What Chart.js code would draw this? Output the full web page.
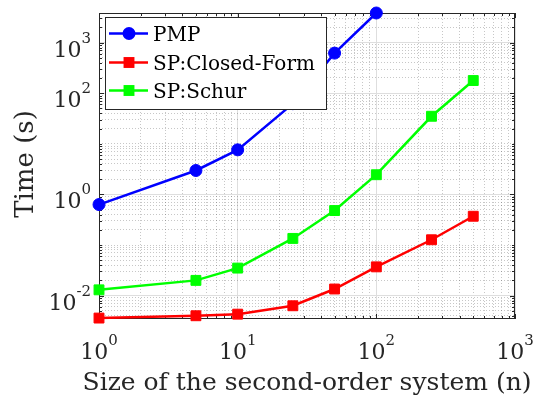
<!DOCTYPE html>
<html><head><meta charset="utf-8">
<script src="https://cdn.jsdelivr.net/npm/chart.js@4.4.0/dist/chart.umd.min.js"></script>
<style>html,body{margin:0;padding:0;background:#fff;}canvas{display:block;}</style>
</head><body>
<canvas id="c" width="535" height="396"></canvas>
<script>
// ---- data ----
const sizes = [1, 5, 10, 25, 50, 100, 250, 500];
const pmpTimes = [0.63, 2.97, 7.6, 62, 620, 3846];
const closedFormTimes = [0.0036, 0.0040, 0.0043, 0.0063, 0.0135, 0.037, 0.127, 0.37];
const schurTimes = [0.013, 0.020, 0.035, 0.135, 0.48, 2.45, 35, 178];
const seriesNames = ['PMP', 'SP:Closed-Form', 'SP:Schur'];
const xMajorTicks = [1, 10, 100, 1000];
const xTickExponents = ['0', '1', '2', '3'];
const yMajorTicks = [0.01, 1, 100, 1000];
const yTickExponents = ['-2', '0', '2', '3'];
const xTitle = 'Size of the second-order system (n)';
const yTitle = 'Time (s)';
const xRange = [1, 1000];
const yRange = [0.00345, 3846];

// ---- styling ----
const FONT = '"DejaVu Serif", serif';
const AXIS = '#262626';
const MAJOR_GRID = '#dedede';
const MINOR_GRID = 'rgba(0,0,0,0.22)';

function logTicks(min, max) {
  const out = [];
  for (let e = Math.floor(Math.log10(min)); e <= Math.ceil(Math.log10(max)); e++) {
    for (let m = 1; m < 10; m++) {
      const v = m * Math.pow(10, e);
      if (v >= min * 0.9999 && v <= max * 1.0001) out.push(v);
    }
  }
  return out;
}
const isMajor = (list, v) => list.some(t => Math.abs(Math.log10(t) - Math.log10(v)) < 1e-6);
const xAllTicks = logTicks(xRange[0], xRange[1]);
const yAllTicks = logTicks(yRange[0], yRange[1]);

const pts = (vals) => vals.map((v, i) => ({x: sizes[i], y: v}));

const datasets = [
  {label: seriesNames[0], data: pts(pmpTimes), borderColor: '#0000ff', backgroundColor: '#0000ff',
   pointStyle: 'circle', pointRadius: 6, pointBorderWidth: 1},
  {label: seriesNames[1], data: pts(closedFormTimes), borderColor: '#ff0000', backgroundColor: '#ff0000',
   pointStyle: 'rect', pointRadius: 7, pointBorderWidth: 1},
  {label: seriesNames[2], data: pts(schurTimes), borderColor: '#00ff00', backgroundColor: '#00ff00',
   pointStyle: 'rect', pointRadius: 7, pointBorderWidth: 1}
].map(d => Object.assign(d, {borderWidth: 2.5, tension: 0, fill: false, clip: false,
   pointBackgroundColor: d.backgroundColor, pointBorderColor: d.borderColor, pointHoverRadius: d.pointRadius}));

function scaleOpts(range, all, major) {
  return {
    type: 'logarithmic', min: range[0], max: range[1],
    afterBuildTicks: s => { s.ticks = all.map(v => ({value: v})); },
    ticks: {display: false},
    grid: {
      drawTicks: false, lineWidth: 1,
      color: c => (c.tick && isMajor(major, c.tick.value)) ? MAJOR_GRID : MINOR_GRID
    },
    border: {display: false, dash: c => (c.tick && isMajor(major, c.tick.value)) ? [] : [1, 2]}
  };
}

function drawPow(ctx, exp, x, y, align) {
  ctx.save();
  ctx.fillStyle = AXIS;
  ctx.textBaseline = 'alphabetic';
  ctx.textAlign = 'left';
  ctx.font = '22px ' + FONT;
  const wb = ctx.measureText('10').width;
  ctx.font = '15px ' + FONT;
  const we = ctx.measureText(exp).width;
  const total = wb + we;
  let x0 = align === 'center' ? x - total / 2 : x - total;
  ctx.font = '22px ' + FONT;
  ctx.fillText('10', x0, y);
  ctx.font = '15px ' + FONT;
  ctx.fillText(exp, x0 + wb, y - 14);
  ctx.restore();
}

const frame = {
  id: 'frame',
  beforeDatasetsDraw(chart) {
    const {ctx, chartArea: a, scales: {x, y}} = chart;
    ctx.save();
    ctx.strokeStyle = AXIS;
    ctx.lineWidth = 1;
    ctx.beginPath();
    xAllTicks.forEach(v => {
      const px = Math.round(x.getPixelForValue(v)) + 0.5;
      const L = isMajor(xMajorTicks, v) ? 5 : 3;
      ctx.moveTo(px, a.bottom); ctx.lineTo(px, a.bottom - L);
      ctx.moveTo(px, a.top); ctx.lineTo(px, a.top + L);
    });
    yAllTicks.forEach(v => {
      const py = Math.round(y.getPixelForValue(v)) + 0.5;
      const L = isMajor(yMajorTicks, v) ? 5 : 3;
      ctx.moveTo(a.left, py); ctx.lineTo(a.left + L, py);
      ctx.moveTo(a.right, py); ctx.lineTo(a.right - L, py);
    });
    ctx.stroke();
    ctx.strokeRect(a.left + 0.5, a.top + 0.5, a.right - a.left - 1, a.bottom - a.top - 1);
    ctx.restore();
  },
  afterDatasetsDraw(chart) {
    const {ctx, chartArea: a, scales: {x, y}} = chart;
    // tick labels
    xMajorTicks.forEach((v, i) => drawPow(ctx, xTickExponents[i], x.getPixelForValue(v), a.bottom + 40, 'center'));
    yMajorTicks.forEach((v, i) => drawPow(ctx, yTickExponents[i], a.left - 8, y.getPixelForValue(v) + 14, 'right'));
    // axis titles
    ctx.save();
    ctx.fillStyle = AXIS;
    ctx.font = '25px ' + FONT;
    ctx.textAlign = 'center';
    ctx.textBaseline = 'alphabetic';
    ctx.fillText(xTitle, (a.left + a.right) / 2, 390);
    ctx.translate(33, (a.top + a.bottom) / 2 - 2);
    ctx.rotate(-Math.PI / 2);
    ctx.font = '26px ' + FONT;
    ctx.fillText(yTitle, 0, 0);
    ctx.restore();
    // legend
    ctx.save();
    const bx = 105.5, by = 17.5, bw = 221, bh = 92;
    ctx.fillStyle = '#fff';
    ctx.fillRect(bx, by, bw, bh);
    ctx.strokeStyle = AXIS;
    ctx.lineWidth = 1;
    ctx.strokeRect(bx, by, bw, bh);
    const rows = [33.5, 62.5, 90.5];
    chart.data.datasets.forEach((d, i) => {
      const cy = rows[i];
      ctx.strokeStyle = d.borderColor;
      ctx.lineWidth = d.borderWidth;
      ctx.beginPath(); ctx.moveTo(109, cy); ctx.lineTo(148, cy); ctx.stroke();
      ctx.fillStyle = d.backgroundColor;
      if (d.pointStyle === 'circle') {
        ctx.beginPath(); ctx.arc(129, cy, d.pointRadius + 0.5, 0, Math.PI * 2); ctx.fill();
      } else {
        const s = Math.SQRT1_2 * d.pointRadius + 0.5;
        ctx.fillRect(129 - s, cy - s, 2 * s, 2 * s);
      }
      ctx.fillStyle = '#000';
      ctx.font = '20px ' + FONT;
      ctx.textAlign = 'left';
      ctx.textBaseline = 'alphabetic';
      ctx.fillText(d.label, 153, cy + 7.2);
    });
    ctx.restore();
  }
};

new Chart(document.getElementById('c'), {
  type: 'line',
  data: {datasets},
  options: {
    responsive: false, animation: false, devicePixelRatio: 1,
    layout: {padding: {left: 99, top: 13, right: 20, bottom: 77}},
    parsing: true,
    scales: {x: scaleOpts(xRange, xAllTicks, xMajorTicks), y: scaleOpts(yRange, yAllTicks, yMajorTicks)},
    plugins: {legend: {display: false}, tooltip: {enabled: false}}
  },
  plugins: [frame]
});
</script>
</body></html>
